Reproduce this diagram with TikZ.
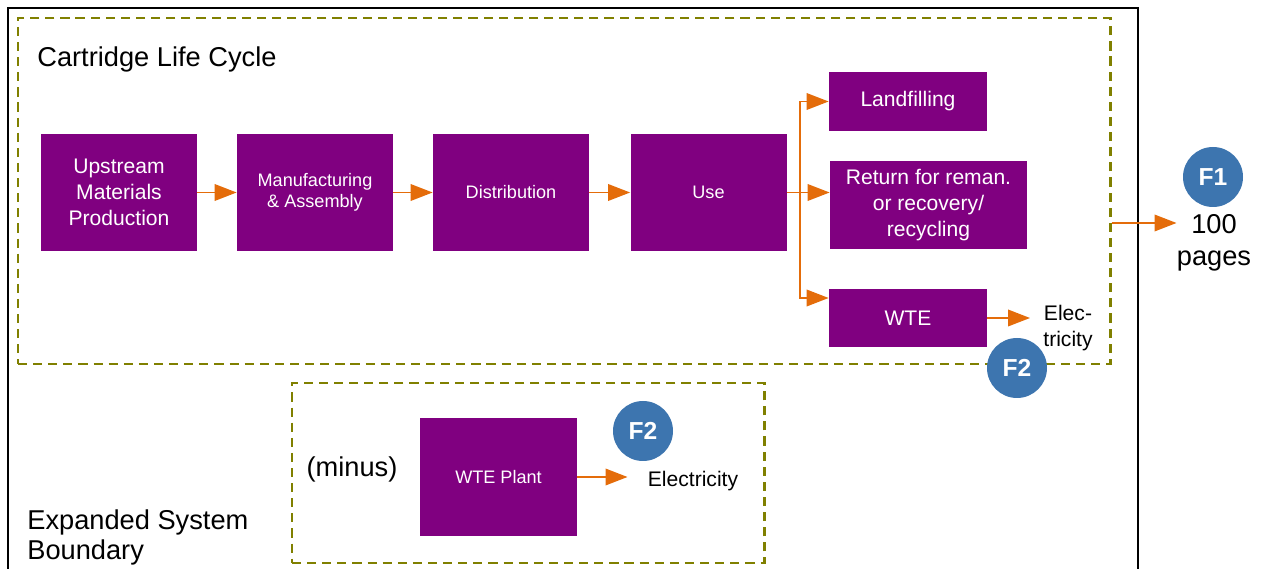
\documentclass[tikz,border=0pt]{standalone}
\usepackage{fontspec}
\setmainfont{Liberation Sans}
\usetikzlibrary{positioning}
\usetikzlibrary{arrows.meta}
\definecolor{lcpurple}{RGB}{128,0,128}
\definecolor{lcorange}{RGB}{228,108,10}
\definecolor{lcblue}{RGB}{61,117,175}
\definecolor{lcolive}{RGB}{128,128,0}
\tikzset{
    node distance=3.92cm,
    stage/.style={
        fill=lcpurple,
        text=white,
        align=center,
        inner sep=0pt,
        minimum width=3.12cm,
        minimum height=2.34cm,
        font=\fontsize{10.3}{12}\selectfont
    },
    bigstage/.style={
        stage,
        font=\fontsize{12}{14.6}\selectfont
    },
    boundary/.style={
        draw=lcolive,
        line width=1.7pt,
        dash pattern=on 5.2pt off 3.4pt
    },
    fnum/.style={
        circle,
        fill=lcblue,
        text=white,
        inner sep=0pt,
        minimum size=1.2cm,
        font=\bfseries\fontsize{14}{16}\selectfont
    },
    txt/.style={
        align=center,
        inner sep=0pt,
        font=\fontsize{12}{14}\selectfont
    },
    flow/.style={
        draw=lcorange,
        line width=1.1pt,
        -{Triangle[length=0.44cm,width=0.33cm]}
    },
    every edge/.append style={
        flow
    }
}
\begin{document}
\begin{tikzpicture}
                \useasboundingbox (0,0) rectangle (25.22,-11.38);
                \draw[line width=0.9pt] (0.16,-11.6) -- (0.16,-0.16) -- (22.76,-0.16) -- (22.76,-11.6);

                \node[boundary, minimum width=21.84cm, minimum height=6.92cm] (clc) at (11.28,-3.82) {};
                \node[boundary, minimum width=9.44cm, minimum height=3.6cm] (minusbox) at (10.56,-9.46) {};
                \node[txt, anchor=west, font=\fontsize{15.5}{17}\selectfont] (title) at (0.74,-1.19) {Cartridge Life Cycle};
                \node[txt, anchor=north west, align=left, font=\fontsize{15.5}{17.4}\selectfont] (esb) at (0.54,-10.18) {Expanded System\\Boundary};

                \node[bigstage] (up) at (2.38,-3.85) {Upstream\\Materials\\Production};
                \node[stage, right of=up] (mfg) {Manufacturing\\\& Assembly};
                \node[stage, right of=mfg] (dist) {Distribution};
                \node[stage, right of=dist, xshift=0.03cm] (use) {Use};

                \node[bigstage, minimum width=3.16cm, minimum height=1.18cm] (land) at (18.16,-2.03) {Landfilling};
                \node[bigstage, minimum width=3.94cm, minimum height=1.76cm] (ret) at (18.57,-4.10) {Return for reman.\\or recovery/\\recycling};
                \node[bigstage, minimum width=3.16cm, minimum height=1.16cm] (wte) at (18.16,-6.36) {WTE};
                \node[txt, inner sep=0.26cm, font=\fontsize{12}{15}\selectfont] (elec1) at (21.36,-6.56) {Elec-\\tricity};

                \node[stage, minimum width=3.14cm, minimum height=2.36cm] (plant) at (9.97,-9.54) {WTE Plant};
                \node[txt, inner sep=0.4cm] (elec2) at (13.86,-9.62) {Electricity};
                \node[txt, font=\fontsize{15.5}{17}\selectfont] (minus) at (7.04,-9.38) {(minus)};

                \node[txt, font=\fontsize{15.5}{18}\selectfont] (pages) at (24.28,-4.86) {100\\pages};

                \draw (up) edge (mfg);
                \draw (mfg) edge (dist);
                \draw (dist) edge (use);

                \coordinate[right=0.26cm of use.east] (split);
                \draw[flow] (split) |- (land.west);
                \draw[flow] (use.east) -- (use.east -| ret.west);
                \draw[flow] (split) |- ([yshift=0.4cm]wte.west);
                \draw[flow] (wte.east) -- (wte.east -| elec1.west);
                \draw[flow] (plant.east) -- (plant.east -| elec2.west);
                \draw[flow] ([yshift=0.4cm]pages.west -| clc.east) -- ([yshift=0.4cm]pages.west);

                \node[fnum] (f1) at (24.26,-3.54) {F1};
                \node[fnum] (f2a) at (20.34,-7.36) {F2};
                \node[fnum] (f2b) at (12.86,-8.62) {F2};
            \end{tikzpicture}
\end{document}
